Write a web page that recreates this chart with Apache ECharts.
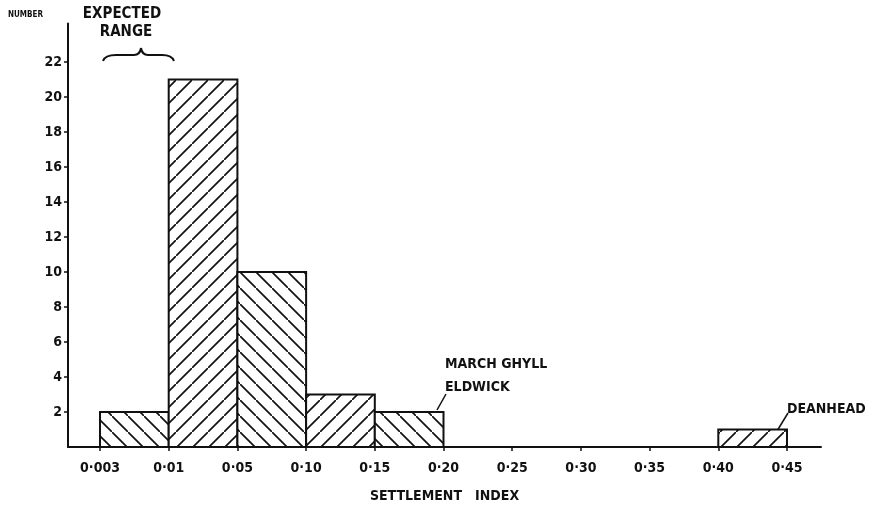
<!DOCTYPE html>
<html>
<head>
<meta charset="utf-8">
<script src="https://cdn.jsdelivr.net/npm/echarts@6/dist/echarts.min.js"></script>
<style>html,body{margin:0;padding:0;background:#fff}#c{width:875px;height:508px}</style>
</head>
<body>
<div id="c"></div>
<script>
// ---- data ----
const tickLabels = ['0·003','0·01','0·05','0·10','0·15','0·20','0·25','0·30','0·35','0·40','0·45'];
const binStart = ['0·003','0·01','0·05','0·10','0·15','0·40'];
const binEnd   = ['0·01','0·05','0·10','0·15','0·20','0·45'];
const counts   = [2, 21, 10, 3, 2, 1];
const yTicks   = [2, 4, 6, 8, 10, 12, 14, 16, 18, 20, 22];

const FONT = '"DejaVu Sans Condensed", "DejaVu Sans", sans-serif';

function makeHatch(dir) {
  const s = 16;
  const cv = document.createElement('canvas');
  cv.width = s; cv.height = s;
  const ctx = cv.getContext('2d');
  ctx.fillStyle = '#fff';
  ctx.fillRect(0, 0, s, s);
  ctx.strokeStyle = '#111';
  ctx.lineWidth = 1.7;
  ctx.beginPath();
  if (dir === '/') {
    ctx.moveTo(-2, s + 2); ctx.lineTo(s + 2, -2);
  } else {
    ctx.moveTo(-2, -2); ctx.lineTo(s + 2, s + 2);
  }
  ctx.stroke();
  return cv;
}
const hatchBack = makeHatch('\\');
const hatchFwd = makeHatch('/');

const data = counts.map((c, i) => [tickLabels.indexOf(binStart[i]), tickLabels.indexOf(binEnd[i]), c]);

const chart = echarts.init(document.getElementById('c'), null, {renderer: 'canvas'});
const lineStyle = {stroke: '#111', lineWidth: 2, fill: null};
chart.setOption({
  animation: false,
  backgroundColor: '#fff',
  grid: {left: 68, right: 54, top: 23.5, bottom: 61},
  xAxis: {
    type: 'value', min: -0.466, max: 10.495,
    splitLine: {show: false},
    axisLine: {onZero: false, lineStyle: {color: '#111', width: 2}},
    axisTick: {show: true, length: 4, lineStyle: {color: '#111', width: 1.5},
               customValues: tickLabels.map((t, i) => i)},
    axisLabel: {customValues: tickLabels.map((t, i) => i),
                formatter: v => tickLabels[Math.round(v)],
                color: '#111', fontFamily: FONT, fontWeight: 'bold', fontSize: 14, margin: 14},
    name: 'SETTLEMENT   INDEX', nameLocation: 'middle', nameGap: 42,
    nameTextStyle: {color: '#111', fontFamily: FONT, fontWeight: 'bold', fontSize: 14}
  },
  yAxis: {
    type: 'value', min: 0, max: 24.2,
    splitLine: {show: false},
    axisLine: {show: true, onZero: false, lineStyle: {color: '#111', width: 2}},
    axisTick: {show: true, length: 4, lineStyle: {color: '#111', width: 1.5}, customValues: yTicks},
    axisLabel: {customValues: yTicks, color: '#111', fontFamily: FONT, fontWeight: 'bold', fontSize: 14, margin: 6}
  },
  series: [{
    type: 'custom',
    encode: {x: [0, 1], y: 2},
    data: data,
    renderItem: function (params, api) {
      const p1 = api.coord([api.value(0), api.value(2)]);
      const p2 = api.coord([api.value(1), 0]);
      const img = params.dataIndex % 2 === 0 ? hatchBack : hatchFwd;
      return {
        type: 'rect',
        shape: {x: p1[0], y: p1[1], width: p2[0] - p1[0], height: p2[1] - p1[1]},
        style: {fill: {image: img, repeat: 'repeat'}, stroke: '#111', lineWidth: 2}
      };
    }
  }],
  graphic: [
    {type: 'text', x: 8, y: 11, style: {text: 'NUMBER', fill: '#111', font: 'bold 8px ' + FONT}},
    {type: 'text', x: 122, y: 7, style: {text: 'EXPECTED', fill: '#111', font: 'bold 15px ' + FONT, align: 'center'}},
    {type: 'text', x: 126, y: 25, style: {text: 'RANGE', fill: '#111', font: 'bold 15px ' + FONT, align: 'center'}},
    {type: 'bezierCurve', shape: {x1: 103, y1: 61, cpx1: 105, cpy1: 55, x2: 116, y2: 55}, style: lineStyle},
    {type: 'line', shape: {x1: 116, y1: 55, x2: 134, y2: 55}, style: lineStyle},
    {type: 'bezierCurve', shape: {x1: 134, y1: 55, cpx1: 140, cpy1: 55, x2: 141, y2: 48}, style: lineStyle},
    {type: 'bezierCurve', shape: {x1: 141, y1: 48, cpx1: 142, cpy1: 55, x2: 148, y2: 55}, style: lineStyle},
    {type: 'line', shape: {x1: 148, y1: 55, x2: 162, y2: 55}, style: lineStyle},
    {type: 'bezierCurve', shape: {x1: 162, y1: 55, cpx1: 172, cpy1: 55, x2: 174, y2: 61}, style: lineStyle},
    {type: 'text', x: 445, y: 357, style: {text: 'MARCH GHYLL', fill: '#111', font: 'bold 14px ' + FONT}},
    {type: 'text', x: 445, y: 380, style: {text: 'ELDWICK', fill: '#111', font: 'bold 14px ' + FONT}},
    {type: 'line', shape: {x1: 446, y1: 394, x2: 437, y2: 410}, style: {stroke: '#111', lineWidth: 1.5}},
    {type: 'text', x: 787, y: 402, style: {text: 'DEANHEAD', fill: '#111', font: 'bold 14px ' + FONT}},
    {type: 'line', shape: {x1: 788, y1: 413, x2: 777, y2: 431}, style: {stroke: '#111', lineWidth: 1.5}}
  ]
});
</script>
</body>
</html>
